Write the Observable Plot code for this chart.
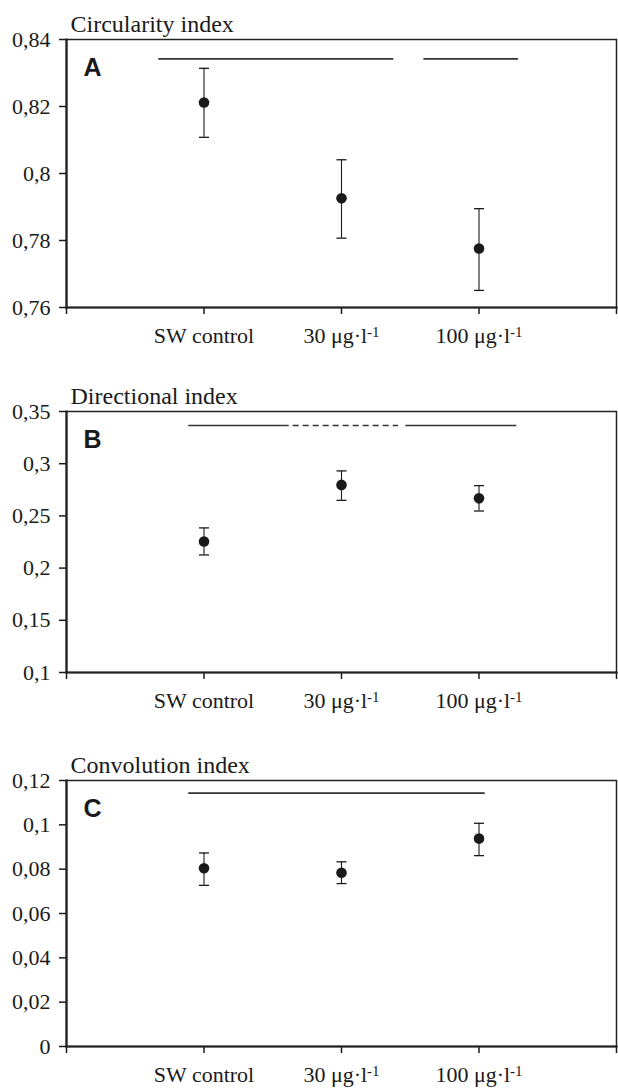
<!DOCTYPE html>
<html><head><meta charset="utf-8">
<script src="https://cdn.jsdelivr.net/npm/d3@7"></script>
<script src="https://cdn.jsdelivr.net/npm/@observablehq/plot@0.6"></script>
<style>
body{margin:0;background:#fff;}
#chart svg{display:block;}
</style></head><body><div id="chart"></div>
<script>
// Categories (x positions 1..3 on a 0..4 axis)
const groups = ["SW control", "30 μg·l-1", "100 μg·l-1"];
const groupPos = [1, 2, 3];
const xTicks = [0, 1, 2, 3, 4];

// A: Circularity index
const circMean = [0.8212, 0.7926, 0.7776];
const circLo   = [0.8108, 0.7807, 0.7651];
const circHi   = [0.8314, 0.8041, 0.7895];
const circTicks = [0.76, 0.78, 0.8, 0.82, 0.84];
const circSigX1 = [0.671, 2.599];
const circSigX2 = [2.380, 3.287];
const circSigY  = [0.8342, 0.8342];
const circSigDashed = [false, false];

// B: Directional index
const dirMean = [0.2255, 0.2797, 0.2668];
const dirLo   = [0.2126, 0.2649, 0.2547];
const dirHi   = [0.2385, 0.2931, 0.2790];
const dirTicks = [0.1, 0.15, 0.2, 0.25, 0.3, 0.35];
const dirSigX1 = [0.889, 1.576, 2.468];
const dirSigX2 = [1.576, 2.415, 3.275];
const dirSigY  = [0.3366, 0.3366, 0.3366];
const dirSigDashed = [false, true, false];

// C: Convolution index
const convMean = [0.0804, 0.0784, 0.0938];
const convLo   = [0.0727, 0.0735, 0.0861];
const convHi   = [0.0873, 0.0833, 0.1007];
const convTicks = [0, 0.02, 0.04, 0.06, 0.08, 0.1, 0.12];
const convSigX1 = [0.889];
const convSigX2 = [3.045];
const convSigY  = [0.1143];
const convSigDashed = [false];

const ink = "#1a1a1a";
const capSymbol = {draw(ctx, size) { const r = Math.sqrt(size / Math.PI); ctx.moveTo(-r, 0); ctx.lineTo(r, 0); }};

function panel({title, letter, mean, lo, hi, ticks, sx1, sx2, sy, sdash, height, marginBottom}) {
  const rows = groupPos.map((x, i) => ({x, mean: mean[i], lo: lo[i], hi: hi[i]}));
  const sig = sx1.map((v, i) => ({x1: v, x2: sx2[i], y: sy[i], dashed: sdash[i]}));
  const svg = Plot.plot({
    width: 618, height, marginTop: 39, marginBottom, marginLeft: 66, marginRight: 2,
    style: {fontFamily: "'Liberation Serif', 'Times New Roman', serif", fontSize: "22px", color: ink, background: "#fff"},
    x: {domain: [0, 4], axis: null},
    y: {domain: [ticks[0], ticks[ticks.length - 1]], axis: null},
    marks: [
      Plot.axisY({ticks, tickSize: 7, tickPadding: 9, strokeWidth: 1.5, label: null,
        tickFormat: d => String(d).replace(".", ",")}),
      Plot.axisX({ticks: xTicks, tickSize: 7, tickPadding: 13, strokeWidth: 1.5, label: null,
        tickFormat: i => groups[i - 1] ?? ""}),
      Plot.frame({stroke: "#222", strokeWidth: 1.5}),
      Plot.frame({anchor: "left", stroke: "#222", strokeWidth: 2.2}),
      Plot.frame({anchor: "bottom", stroke: "#222", strokeWidth: 2.2}),
      Plot.ruleY(sig.filter(d => !d.dashed), {x1: "x1", x2: "x2", y: "y", stroke: "#333", strokeWidth: 1.7}),
      Plot.ruleY(sig.filter(d => d.dashed), {x1: "x1", x2: "x2", y: "y", stroke: "#333", strokeWidth: 1.7, strokeDasharray: "6,4"}),
      Plot.ruleX(rows, {x: "x", y1: "lo", y2: "hi", stroke: ink, strokeWidth: 1.1}),
      Plot.dot(rows, {x: "x", y: "lo", symbol: capSymbol, r: 5, fill: "none", stroke: ink, strokeWidth: 1.3}),
      Plot.dot(rows, {x: "x", y: "hi", symbol: capSymbol, r: 5, fill: "none", stroke: ink, strokeWidth: 1.3}),
      Plot.dot(rows, {x: "x", y: "mean", r: 5.3, fill: ink, stroke: "none"}),
      Plot.text([title], {frameAnchor: "top-left", textAnchor: "start", lineAnchor: "bottom", dx: 4, dy: -8, fontSize: 24}),
      Plot.text([letter], {frameAnchor: "top-left", textAnchor: "start", lineAnchor: "bottom", dx: 17, dy: 36,
        fontFamily: "'Liberation Sans', Arial, sans-serif", fontWeight: "bold", fontSize: 25})
    ]
  });
  const ns = "http://www.w3.org/2000/svg";
  for (const t of svg.querySelectorAll('g[aria-label="x-axis tick label"] text')) {
    const s = t.textContent;
    if (s.endsWith("-1")) {
      t.textContent = "";
      const a = document.createElementNS(ns, "tspan");
      a.textContent = s.slice(0, -2);
      const b = document.createElementNS(ns, "tspan");
      b.textContent = "-1";
      b.setAttribute("dy", "-0.42em");
      b.setAttribute("font-size", "15");
      t.append(a, b);
    }
  }
  return svg;
}

const root = document.getElementById("chart");
root.append(
  panel({title: "Circularity index", letter: "A", mean: circMean, lo: circLo, hi: circHi, ticks: circTicks,
    sx1: circSigX1, sx2: circSigX2, sy: circSigY, sdash: circSigDashed, height: 372, marginBottom: 65}),
  panel({title: "Directional index", letter: "B", mean: dirMean, lo: dirLo, hi: dirHi, ticks: dirTicks,
    sx1: dirSigX1, sx2: dirSigX2, sy: dirSigY, sdash: dirSigDashed, height: 369, marginBottom: 69}),
  panel({title: "Convolution index", letter: "C", mean: convMean, lo: convLo, hi: convHi, ticks: convTicks,
    sx1: convSigX1, sx2: convSigX2, sy: convSigY, sdash: convSigDashed, height: 348, marginBottom: 43})
);
</script></body></html>
